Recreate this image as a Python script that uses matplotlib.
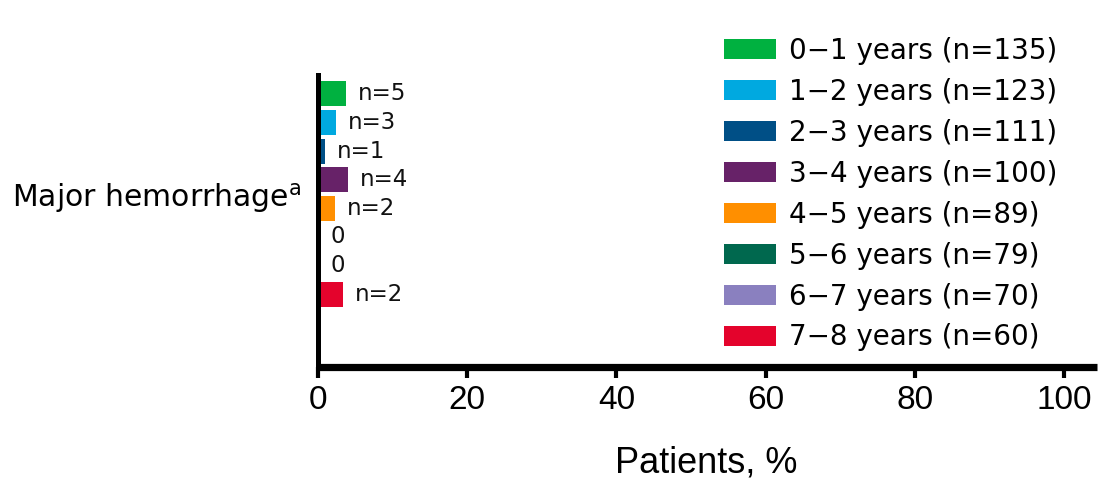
import matplotlib
matplotlib.use("Agg")
import matplotlib.pyplot as plt
from matplotlib.patches import Patch
import numpy as np

# ---- data ----
category = "Major hemorrhage"
groups = ["0\u22121 years (n=135)", "1\u22122 years (n=123)", "2\u22123 years (n=111)",
          "3\u22124 years (n=100)", "4\u22125 years (n=89)", "5\u22126 years (n=79)",
          "6\u22127 years (n=70)", "7\u22128 years (n=60)"]
events = [5, 3, 1, 4, 2, 0, 0, 2]
totals = [135, 123, 111, 100, 89, 79, 70, 60]
bar_labels = ["n=5", "n=3", "n=1", "n=4", "n=2", "0", "0", "n=2"]
colors = ["#00B140", "#00A9E0", "#004F86", "#672268", "#FF8F00",
          "#00684E", "#8A80BF", "#E4032C"]
xticks = [0, 20, 40, 60, 80, 100]

percent = [100.0 * e / t for e, t in zip(events, totals)]

plt.rcParams['font.family'] = ['DejaVu Sans']
plt.rcParams['mathtext.fontset'] = 'dejavusans'

fig = plt.figure(figsize=(10.99, 4.82), dpi=100)
ax = fig.add_axes([318/1099, 1 - 367/482, (1097-318)/1099, (367-75)/482])

y = np.arange(len(events))
ax.barh(y, percent, height=0.87, color=colors, zorder=2)
for yi, p, lab in zip(y, percent, bar_labels):
    ax.annotate(lab, xy=(p, yi), xytext=(12, 0), textcoords='offset pixels',
                ha='left', va='center', fontsize=16.5, color='#111111')

ax.set_xlim(0, 104.4)
ax.set_ylim(9.55, -0.66)
ax.set_xticks(xticks)
ax.set_xticklabels([str(t) for t in xticks], family='Liberation Sans', fontsize=24)
ax.tick_params(axis='x', length=8, width=3, direction='out', pad=5, colors='black')
ax.set_yticks([3.5])
ax.set_yticklabels([category + r'$^{\mathrm{a}}$'], fontsize=21.5)
ax.tick_params(axis='y', length=0, pad=12)

for s in ['top', 'right']:
    ax.spines[s].set_visible(False)
ax.spines['left'].set_linewidth(3.6)
ax.spines['bottom'].set_linewidth(5.2)
ax.spines['bottom'].set_capstyle('butt')

ax.set_xlabel("Patients, %", family='Liberation Sans', fontsize=26)
ax.xaxis.set_label_coords((706-318)/(1097-318), -0.27)

handles = [Patch(facecolor=c, edgecolor='none') for c in colors]
fig.legend(handles, groups, loc='upper left',
           bbox_to_anchor=(724/1099, 1 - 37/482), frameon=False,
           fontsize=20, handlelength=1.87, handleheight=0.72,
           handletextpad=0.47, labelspacing=0.465, borderpad=0, borderaxespad=0)

fig.savefig("out.png", dpi=100)
